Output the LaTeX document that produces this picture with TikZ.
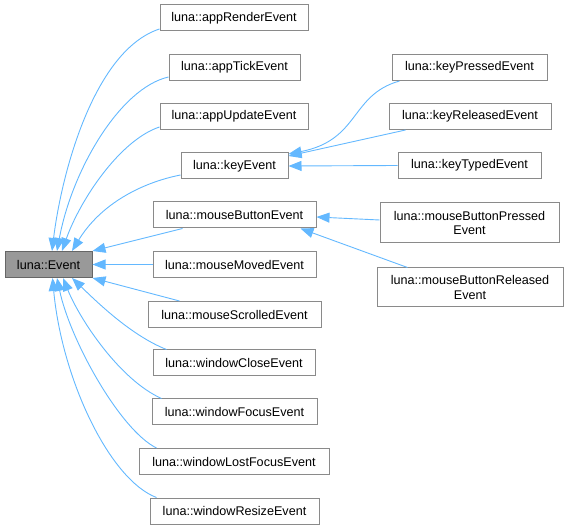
\documentclass[tikz,border=0pt]{standalone}
\usepackage{fontspec}
\setmainfont{Liberation Sans}
\usetikzlibrary{arrows.meta,calc}
\definecolor{edgecol}{HTML}{63B8FF}
\definecolor{boxline}{HTML}{8A8A8A}
\definecolor{baseline}{HTML}{666666}
\definecolor{basefill}{HTML}{999999}
\begin{document}
\begin{tikzpicture}[x=1pt,y=-1pt,
  box/.style={draw=boxline,line width=1pt,fill=white,inner sep=0pt,minimum height=26pt,align=center,font=\fontsize{12.6}{14.5}\selectfont},
  edge/.style={draw=edgecol,line width=0.9pt,-{Triangle[length=13pt,width=10pt,fill=edgecol]}}]
\useasboundingbox (0,0) rectangle (568,529);
% nodes
\node[box,draw=baseline,fill=basefill,minimum width=87pt] (ev) at (48.5,264.5) {luna::Event};
\node[box,minimum width=148pt] (ar) at (234,18) {luna::appRenderEvent};
\node[box,minimum width=131pt] (at) at (234.5,67.5) {luna::appTickEvent};
\node[box,minimum width=148pt] (au) at (234,116.5) {luna::appUpdateEvent};
\node[box,minimum width=107pt] (ke) at (234.5,166) {luna::keyEvent};
\node[box,minimum width=163pt] (mb) at (234.5,215) {luna::mouseButtonEvent};
\node[box,minimum width=163pt] (mm) at (234.5,264.5) {luna::mouseMovedEvent};
\node[box,minimum width=173pt] (ms) at (234.5,314.5) {luna::mouseScrolledEvent};
\node[box,minimum width=162pt] (wc) at (234,363) {luna::windowCloseEvent};
\node[box,minimum width=165pt] (wf) at (234.5,412) {luna::windowFocusEvent};
\node[box,minimum width=190pt] (wl) at (234,461.5) {luna::windowLostFocusEvent};
\node[box,minimum width=169pt] (wr) at (234.5,511) {luna::windowResizeEvent};
\node[box,minimum width=155pt] (kp) at (469.5,67.5) {luna::keyPressedEvent};
\node[box,minimum width=162pt] (kr) at (470,116.5) {luna::keyReleasedEvent};
\node[box,minimum width=143pt] (kt) at (469.5,165.5) {luna::keyTypedEvent};
\node[box,minimum width=179pt,minimum height=40pt] (mbp) at (469.5,223) {luna::mouseButtonPressed\\Event};
\node[box,minimum width=186pt,minimum height=39pt] (mbr) at (470,287.5) {luna::mouseButtonReleased\\Event};
% edges to Event
\draw[edge] ($(ar.west)+(0,11)$) .. controls (95,50) and (62,170) .. ($(ev.north)+(3.5,0)$);
\draw[edge] ($(at.west)+(0,9.5)$) .. controls (120,88) and (72,170) .. ($(ev.north)+(8.5,0)$);
\draw[edge] ($(au.west)+(0,10.5)$) .. controls (120,140) and (80,200) .. ($(ev.north)+(13.5,0)$);
\draw[edge] ($(ke.west)+(0,9)$) .. controls (140,183) and (100,205) .. ($(ev.north)+(23.5,0)$);
\draw[edge] ($(mb.south west)+(30,0)$) -- (ev.north east);
\draw[edge] (mm.west) -- (ev.east);
\draw[edge] ($(ms.north west)+(32,0)$) -- (ev.south east);
\draw[edge] ($(wc.north west)+(14,0)$) .. controls (130,335) and (95,300) .. ($(ev.south)+(23.5,0)$);
\draw[edge] ($(wf.north west)+(10,0)$) .. controls (120,380) and (80,320) .. ($(ev.south)+(14.5,0)$);
\draw[edge] ($(wl.north west)+(18,0)$) .. controls (120,430) and (70,340) .. ($(ev.south)+(8.5,0)$);
\draw[edge] ($(wr.north west)+(7,0)$) .. controls (110,480) and (62,380) .. ($(ev.south)+(4,0)$);
% edges to keyEvent
\draw[edge] ($(kp.south west)+(8,0)$) .. controls (350,95) and (360,140) .. ($(ke.east)+(0,-12)$);
\draw[edge] ($(kr.south west)+(17,0)$) -- ($(ke.east)+(0,-10)$);
\draw[edge] (kt.west) -- (ke.east);
% edges to mouseButtonEvent
\draw[edge] ($(mbp.west)+(0,-3)$) -- ($(mb.east)+(0,2)$);
\draw[edge] ($(mbr.north west)+(31,0)$) -- ($(mb.south east)+(-16,0)$);
\end{tikzpicture}
\end{document}
